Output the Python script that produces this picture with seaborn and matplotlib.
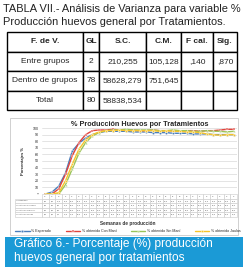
import numpy as np
import pandas as pd
import matplotlib
matplotlib.use("Agg")
import matplotlib.pyplot as plt
import seaborn as sns
from matplotlib.patches import Rectangle

sns.set_theme(style="white")
plt.rcParams['font.family'] = ['Liberation Sans', 'DejaVu Sans']

W, H = 245, 270

# ANOVA table
anova_header = ["F. de V.", "GL", "S.C.", "C.M.", "F cal.", "Sig."]
anova_rows = [
    ["Entre grupos", "2", "210,255", "105,128", ",140", ",870"],
    ["Dentro de grupos", "78", "58628,279", "751,645", "", ""],
    ["Total", "80", "58838,534", "", "", ""],
]

# % production by week
semanas = list(range(18, 47))
esperado = [0, 3, 12, 32, 65, 77, 85, 90, 93, 95, 95, 95, 95, 94, 94, 94, 93, 93,
            93, 92, 92, 92, 91, 91, 91, 90, 90, 90, 90]
con_mani = [0, 0, 8, 30, 58, 78, 90, 96, 97, 97, 98, 97, 97, 97, 96, 96, 97, 96,
            96, 96, 95, 96, 96, 95, 96, 96, 97, 98, 98]
sin_mani = [0, 0, 0, 14, 38, 62, 78, 88, 93, 96, 97, 97, 98, 97, 97, 97, 97, 96,
            96, 97, 96, 96, 95, 95, 96, 95, 95, 94, 95]
jaulas = [0, 0, 2, 20, 45, 68, 82, 90, 94, 96, 96, 97, 96, 96, 96, 96, 96, 95,
          96, 95, 95, 94, 94, 93, 91, 90, 89, 90, 90]
series_names = ["% Esperado", "% obtenido Con Maní", "% obtenido Sin Maní", "% obtenido Jaulas"]
colores = ["#4a7ebb", "#e0433c", "#9bc45a", "#f6c42b"]


def rect(x0, y0, x1, y1):
    # pixel box (top-left origin) -> figure rect
    return [x0 / W, 1 - y1 / H, (x1 - x0) / W, (y1 - y0) / H]


fig = plt.figure(figsize=(W / 100, H / 100), dpi=100)
fig.patch.set_facecolor("white")

# heading
fig.text(3 / W, 1 - 9 / H, "TABLA VII.- Análisis de Varianza para variable %",
         fontsize=7.9, va="center", ha="left", color="#222222")
fig.text(3 / W, 1 - 22 / H, "Producción huevos general por Tratamientos.",
         fontsize=7.9, va="center", ha="left", color="#222222")

# ANOVA table
tax = fig.add_axes(rect(7, 32, 237, 110))
tax.axis("off")
col_w = np.array([76, 16, 47, 35, 32, 24], dtype=float)
tbl = tax.table(cellText=anova_rows, colLabels=anova_header, bbox=[0, 0, 1, 1],
                colWidths=list(col_w / col_w.sum()), cellLoc="center")
tbl.auto_set_font_size(False)
for (r, c), cell in tbl.get_celld().items():
    cell.set_linewidth(1.0)
    cell.set_edgecolor("black")
    cell.get_text().set_fontsize(6)
    if r == 0:
        cell.get_text().set_fontweight("bold")

# chart frame
fig.add_artist(Rectangle((10 / W, 1 - 235 / H), 228 / W, 117 / H, transform=fig.transFigure,
                         fill=False, edgecolor="#d0d0d0", linewidth=0.7))

# line chart
df = pd.DataFrame({"semana": semanas * 4,
                   "valor": esperado + con_mani + sin_mani + jaulas,
                   "serie": sum([[s] * len(semanas) for s in series_names], [])})
df["pos"] = df["semana"] - semanas[0]

ax = fig.add_axes(rect(42, 128, 237, 194))
sns.lineplot(data=df, x="pos", y="valor", hue="serie", style="serie", palette=colores,
             markers=["D", "s", "^", "o"], dashes=False, markersize=1.6, linewidth=1.0,
             markeredgewidth=0.3, ax=ax)
ax.set_xlim(-0.5, len(semanas) - 0.5)
ax.set_ylim(0, 100)
ax.set_yticks(range(0, 101, 10))
ax.set_yticklabels([str(v) for v in range(0, 101, 10)], fontsize=2.6)
ax.tick_params(axis="y", length=0, pad=2)
ax.set_xticks([])
ax.set_xlabel("")
ax.set_ylabel("Porcentajes %", fontsize=3, fontweight="bold", labelpad=6)
ax.grid(axis="y", color="#d9d9d9", linewidth=0.5)
for s in ax.spines.values():
    s.set_visible(False)
ax.set_title("% Producción Huevos por Tratamientos", fontsize=5.2, fontweight="bold", pad=1.5)
handles, labels = ax.get_legend_handles_labels()
ax.get_legend().remove()

# data table under chart
dax = fig.add_axes(rect(15, 194, 237, 217))
dax.axis("off")
n = len(semanas)
lab_w = 27
cw = [lab_w] + [195 / n] * n
cw = np.array(cw) / sum(cw)
cells = [[""] + [str(s) for s in semanas]]
for name, vals in zip(series_names, [esperado, con_mani, sin_mani, jaulas]):
    cells.append([name] + [f"{v:.1f}".replace(".", ",") for v in vals])
dt = dax.table(cellText=cells, bbox=[0, 0, 1, 1], colWidths=list(cw), cellLoc="center")
dt.auto_set_font_size(False)
for (r, c), cell in dt.get_celld().items():
    cell.set_linewidth(0.4)
    cell.set_edgecolor("#c8c8c8")
    cell.get_text().set_fontsize(1.5)
    cell.get_text().set_color("#555555")
    if r == 0 and c == 0:
        cell.set_edgecolor("white")
    if c == 0:
        cell.get_text().set_ha("left")
        cell._loc = "left"
        cell.PAD = 0.03

fig.text(128 / W, 1 - 224 / H, "Semanas de producción", fontsize=3.4, fontweight="bold",
         ha="center", va="center", color="#333333")
fig.legend(handles, labels, loc="center", bbox_to_anchor=(128 / W, 1 - 231 / H), ncol=4,
           fontsize=2.6, frameon=False, handlelength=4, columnspacing=4, handletextpad=0.5,
           borderaxespad=0)

# caption box
fig.add_artist(Rectangle((5 / W, 1 - 267 / H), 238 / W, 30 / H, transform=fig.transFigure,
                         facecolor="#1b9ad6", edgecolor="none"))
fig.text(14 / W, 1 - 244 / H, "Gráfico 6.- Porcentaje (%) producción", fontsize=8.6,
         color="white", ha="left", va="center")
fig.text(14 / W, 1 - 258 / H, "huevos general por tratamientos", fontsize=8.6,
         color="white", ha="left", va="center")

fig.savefig("out.png", dpi=100)
